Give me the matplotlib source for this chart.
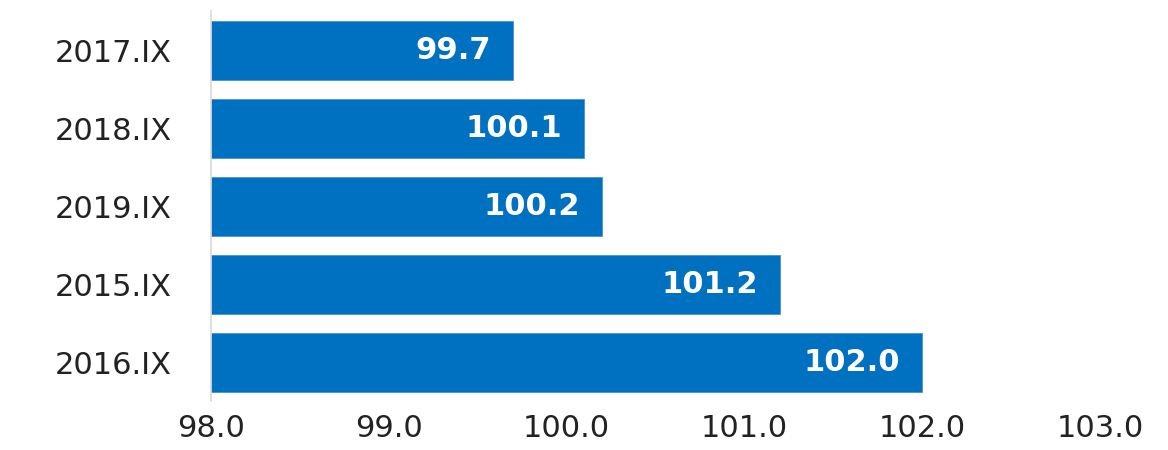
import matplotlib
matplotlib.use("Agg")
import matplotlib.pyplot as plt

# data, top to bottom as shown
periods = ["2017.IX", "2018.IX", "2019.IX", "2015.IX", "2016.IX"]
values = [99.7, 100.1, 100.2, 101.2, 102.0]
xticks = [98.0, 99.0, 100.0, 101.0, 102.0, 103.0]

plt.rcParams['font.family'] = ['DejaVu Sans']

fig = plt.figure(figsize=(11.68, 4.5), dpi=100)
ax = fig.add_axes([0.1807, 0.108, 0.7611, 0.867])

base = 98.0
ypos = list(range(len(periods)))
bars = ax.barh(ypos, [v - base for v in values], left=base, height=0.75,
               color='#0070C0', edgecolor='#4A90D0', linewidth=0.6)

for y, v in zip(ypos, values):
    ax.annotate(f"{v:.1f}", xy=(v, y), xytext=(-16, 0), textcoords='offset points',
                ha='right', va='center', color='white', fontsize=22, fontweight='bold')

ax.set_xlim(98.0, 103.0)
ax.set_ylim(len(periods) - 0.5, -0.5)
ax.set_yticks(ypos)
ax.set_yticklabels(periods, fontsize=22, color='#222222')
ax.set_xticks(xticks)
ax.set_xticklabels([f"{t:.1f}" for t in xticks], fontsize=22, color='#222222')
ax.tick_params(axis='both', length=0)
ax.tick_params(axis='y', pad=28)
ax.tick_params(axis='x', pad=9)

for s in ['top', 'right', 'bottom']:
    ax.spines[s].set_visible(False)
ax.spines['left'].set_color('#D9D9D9')
ax.spines['left'].set_linewidth(1.2)

fig.savefig("out.png", dpi=100)
